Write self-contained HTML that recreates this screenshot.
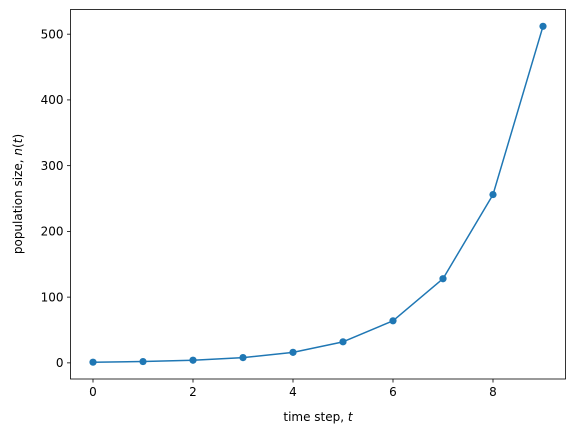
<!DOCTYPE html>
<html><head><meta charset="utf-8">
<style>
html,body{margin:0;padding:0;background:#fff;}
svg{display:block;font-family:"DejaVu Sans","Liberation Sans",sans-serif;}
</style></head>
<body>
<svg id="chart" width="575" height="436" viewBox="0 0 575 436" xmlns="http://www.w3.org/2000/svg">
<rect x="0" y="0" width="575" height="436" fill="#fff"/>
<g id="plot"></g>
<rect x="70.5" y="9.5" width="495" height="369.5" fill="none" stroke="#000" stroke-width="0.8"/>
<text x="318" y="421" font-size="12" text-anchor="middle">time step, <tspan font-style="italic">t</tspan></text>
<text transform="translate(22,194) rotate(-90)" font-size="12" text-anchor="middle">population size, <tspan font-style="italic">n</tspan>(<tspan font-style="italic">t</tspan>)</text>
</svg>
<script>
const steps = [0,1,2,3,4,5,6,7,8,9];
const population = [1,2,4,8,16,32,64,128,256,512];
const xTicks = [0,2,4,6,8];
const yTicks = [0,100,200,300,400,500];

const NS = "http://www.w3.org/2000/svg";
const L = 70.5, R = 565.5, T = 9.5, B = 379;
const xMin = -0.45, xMax = 9.45, yMin = -24.55, yMax = 537.55;
function xs(v){ return L + (v - xMin) / (xMax - xMin) * (R - L); }
function ys(v){ return B - (v - yMin) / (yMax - yMin) * (B - T); }
const g = document.getElementById('plot');
function mk(tag, attrs){ const e = document.createElementNS(NS, tag); for (const k in attrs) e.setAttribute(k, attrs[k]); g.appendChild(e); return e; }

xTicks.forEach(t => {
  const x = xs(t);
  const ln = mk('line', {x1:x, x2:x, y1:B, y2:B+3.5, stroke:'#000', 'stroke-width':0.8});
  
  
  const tx = mk('text', {x:x, y:B+17, 'font-size':12, 'text-anchor':'middle'});
  tx.textContent = t;
  
  
});
yTicks.forEach(t => {
  const y = ys(t);
  const ln = mk('line', {x1:L-3.5, x2:L, y1:y, y2:y, stroke:'#000', 'stroke-width':0.8});
  
  
  const tx = mk('text', {x:L-7, y:y+4.3, 'font-size':12, 'text-anchor':'end'});
  tx.textContent = t;
  
  
});
const pts = steps.map((s,i) => xs(s).toFixed(2) + ',' + ys(population[i]).toFixed(2)).join(' ');
const line = mk('polyline', {points:pts, fill:'none', stroke:'#1f77b4', 'stroke-width':1.5, 'stroke-linejoin':'round'});


steps.forEach((s,i) => {
  const c = mk('circle', {cx:xs(s), cy:ys(population[i]), r:3.6, fill:'#1f77b4'});
  
  
});
</script>
</body></html>
